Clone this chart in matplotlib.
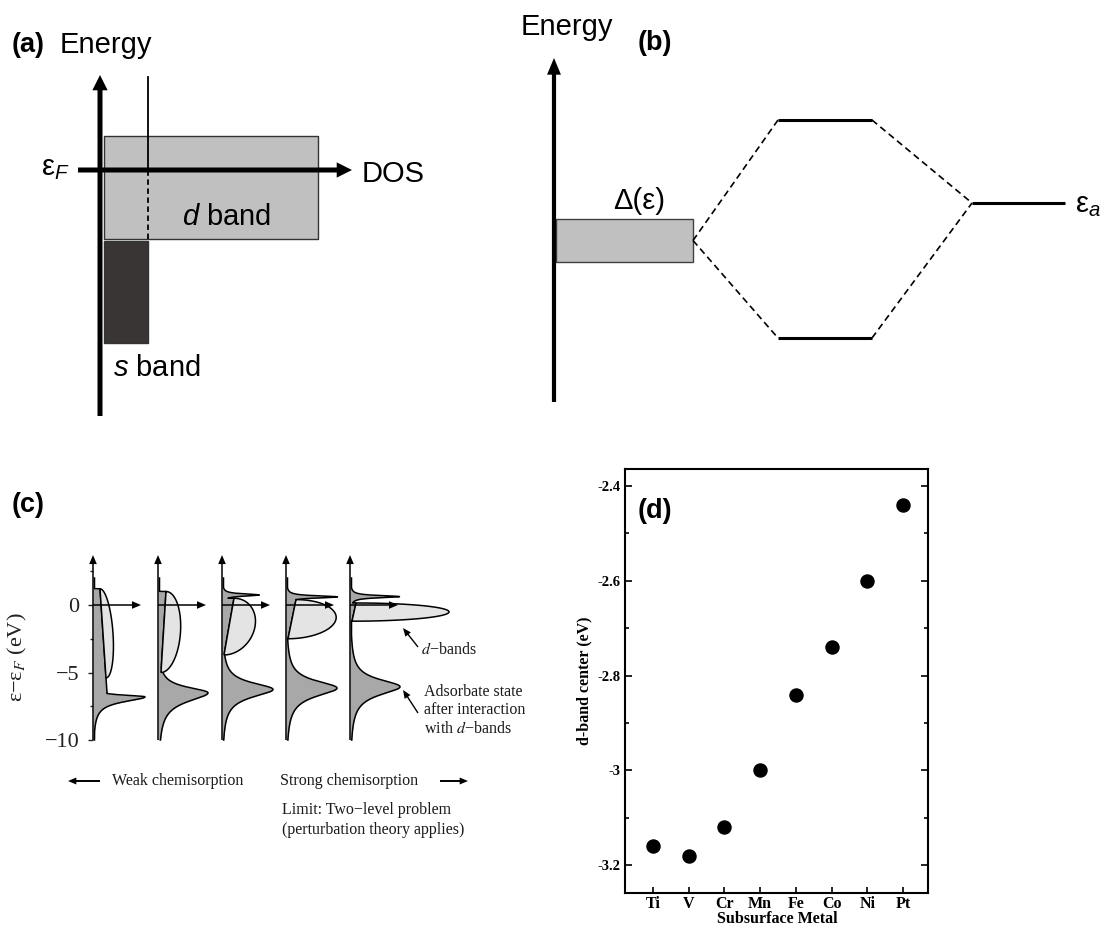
"""
Figura compuesta: modelo de banda d (a-c) y centro de banda d (d)
"""
import numpy as np
import matplotlib
matplotlib.use('Agg')
import matplotlib.pyplot as plt
from matplotlib.patches import Rectangle
from matplotlib.ticker import FixedLocator, MultipleLocator

plt.rcParams['font.family'] = ['Liberation Sans', 'DejaVu Sans']
plt.rcParams['mathtext.fontset'] = 'custom'
plt.rcParams['mathtext.rm'] = 'Liberation Sans'
plt.rcParams['mathtext.it'] = 'Liberation Sans:italic'

FIG_W, FIG_H = 1100, 926
SERIF = 'Liberation Serif'

# (a) bandas del metal (unidades del esquema, nivel de Fermi = 0)
band_labels = ['$d$ band', '$s$ band']
band_dos = [214, 44]
band_top = [34, -71]
band_bottom = [-69, -173]

# (b) niveles del esquema de hibridacion
metal_band = [-22, 21]        # Delta(e)
adsorbate_level = 37          # e_a
hybrid_levels = [120, -98]    # antienlazante / enlazante

# (c) DOS proyectada, de quimisorcion debil a fuerte (energias en eV, alturas en px)
bond_energy = [-6.8, -6.5, -6.25, -6.15, -6.05]
bond_height = [52, 50, 51, 51, 50]
bond_gamma_up = [0.15, 0.5, 0.6, 0.65, 0.65]
bond_gamma_dn = [0.45, 0.8, 0.7, 0.75, 0.75]
anti_energy = [0.0, 0.0, 0.74, 0.6, 0.62]
anti_height = [0, 0, 37, 51, 49]
anti_gamma = 0.1
dband_top = [1.2, 1.0, 0.5, 0.4, 0.15]
dband_bottom = [-5.4, -5.0, -3.7, -2.5, -1.2]
dband_left_top = [7, 8, 12, 10, 6]
dband_left_bottom = [13, 3, 2, 2, 2]
dband_bulge = [10, 17, 26, 44, 95]
shelf_bottom = [-6.55, -5.0, -3.7, -2.5, -1.2]
energy_ticks = [-10, -5, 0]

# (d) centro de banda d por metal subsuperficial
metals = ['Ti', 'V', 'Cr', 'Mn', 'Fe', 'Co', 'Ni', 'Pt']
d_center = [-3.16, -3.18, -3.12, -3.00, -2.84, -2.74, -2.60, -2.44]
d_ticks = [-3.2, -3.0, -2.8, -2.6, -2.4]
d_tick_labels = ['-3.2', '-3', '-2.8', '-2.6', '-2.4']

fig = plt.figure(figsize=(FIG_W / 100, FIG_H / 100), dpi=100)
fig.patch.set_facecolor('white')


def px_axes(x0, y0, x1, y1):
    return fig.add_axes([x0 / FIG_W, 1 - y1 / FIG_H, (x1 - x0) / FIG_W, (y1 - y0) / FIG_H])


def arrow(ax, start, end, width, head_len, head_w, z=6):
    style = f'simple,head_length={head_len},head_width={head_w},tail_width={width}'
    ax.annotate('', xy=end, xytext=start, zorder=z,
                arrowprops=dict(arrowstyle=style, mutation_scale=1, fc='k', ec='none',
                                lw=0, shrinkA=0, shrinkB=0))


# ---------------- (a) ----------------
ax_a = px_axes(0, 0, 450, 430)
ax_a.set_xlim(-100, 350)
ax_a.set_ylim(-260, 170)
ax_a.axis('off')

band_x0 = 4
band_colors = ['#c0c0c0', '#3a3535']
for i in range(2):
    ax_a.add_patch(Rectangle((band_x0, band_bottom[i]), band_dos[i], band_top[i] - band_bottom[i],
                             fc=band_colors[i], ec='#333333', lw=1.0, zorder=1))
x_s = band_x0 + band_dos[1]
ax_a.plot([x_s, x_s], [0, 93], color='k', lw=1.3, zorder=2)
ax_a.plot([x_s, x_s], [band_bottom[0], 0], color='k', lw=1.3, ls=(0, (3, 2)), zorder=2)
arrow(ax_a, (0, -246), (0, 95), 3.6, 11, 11)
arrow(ax_a, (-22, 0), (252, 0), 3.6, 11, 11)

ax_a.text(-88, 118, '(a)', fontsize=19.5, fontweight='bold', va='baseline')
ax_a.text(-40, 117, 'Energy', fontsize=21, va='baseline')
ax_a.text(-30, -5, 'ε$_{F}$', fontsize=21, ha='right', va='baseline')
ax_a.text(262, -12, 'DOS', fontsize=21, va='baseline')
ax_a.text(82, -55, band_labels[0], fontsize=21, va='baseline')
ax_a.text(13, -206, band_labels[1], fontsize=21, va='baseline')

# ---------------- (b) ----------------
ax_b = px_axes(450, 0, 1100, 430)
ax_b.set_xlim(-104, 546)
ax_b.set_ylim(-190, 240)
ax_b.axis('off')

rect_right = 139
ax_b.add_patch(Rectangle((2, metal_band[0]), rect_right - 2, metal_band[1] - metal_band[0],
                         fc='#c0c0c0', ec='#404040', lw=1.0, zorder=1))
arrow(ax_b, (0, -162), (0, 182), 3.0, 12, 10)
band_mid = sum(metal_band) / 2
lvl_x = [224, 318]
ea_x = [418, 511]
for lvl in hybrid_levels:
    ax_b.plot(lvl_x, [lvl, lvl], color='k', lw=2.2, solid_capstyle='butt')
    ax_b.plot([rect_right, lvl_x[0]], [band_mid, lvl], color='k', lw=1.2, ls=(0, (4, 2.5)))
    ax_b.plot([lvl_x[1], ea_x[0]], [lvl, adsorbate_level], color='k', lw=1.2, ls=(0, (4, 2.5)))
ax_b.plot(ea_x, [adsorbate_level] * 2, color='k', lw=2.2, solid_capstyle='butt')

ax_b.text(85, 31, 'Δ(ε)', fontsize=21, ha='center', va='baseline')
ax_b.text(521, 28, 'ε$_{a}$', fontsize=21, va='baseline')
ax_b.text(-33, 205, 'Energy', fontsize=21, va='baseline')
ax_b.text(84, 190, '(b)', fontsize=19.5, fontweight='bold', va='baseline')

# ---------------- (c) ----------------
ax_c = px_axes(0, 480, 560, 850)


def e_px(py):
    return (605 - py) / 13.5


panel_x = [93, 158, 222, 286, 350]
ax_c.set_xlim(0, 560)
ax_c.set_ylim(e_px(850), e_px(480))
for sp in ax_c.spines.values():
    sp.set_visible(False)
ax_c.spines['left'].set_position(('data', panel_x[0]))
ax_c.set_xticks([])
ax_c.set_yticks(energy_ticks)
ax_c.yaxis.set_minor_locator(FixedLocator([-7.5, -2.5, 2.5]))
ax_c.tick_params(axis='y', which='major', direction='out', length=3.6, width=1.0, pad=6,
                 labelsize=16, labelfontfamily=SERIF, colors='#222222')
ax_c.tick_params(axis='y', which='minor', direction='out', length=2.2, width=1.0, colors='#222222')

dark, light = '#a8a8a8', '#e4e4e4'
E = np.linspace(-10, 2.0, 3000)
for i, x0 in enumerate(panel_x):
    g = np.where(E > bond_energy[i], bond_gamma_up[i], bond_gamma_dn[i])
    bond = bond_height[i] / (1 + ((E - bond_energy[i]) / g) ** 2)
    anti = anti_height[i] / (1 + ((E - anti_energy[i]) / anti_gamma) ** 2)
    slope = (dband_left_top[i] - dband_left_bottom[i]) / (dband_top[i] - dband_bottom[i])
    left_line = dband_left_bottom[i] + slope * (E - dband_bottom[i])
    shelf = np.where((E <= dband_top[i]) & (E >= shelf_bottom[i]), left_line, 0)
    xd = np.maximum.reduce([np.full_like(E, 1.5), bond + anti, shelf])
    ax_c.fill_betweenx(E, x0, x0 + xd, color=dark, lw=0, zorder=2)
    ax_c.plot(x0 + xd, E, color='k', lw=1.1, zorder=3)

    El = np.linspace(dband_bottom[i], dband_top[i], 400)
    mid = (dband_top[i] + dband_bottom[i]) / 2
    half = (dband_top[i] - dband_bottom[i]) / 2
    left = dband_left_bottom[i] + slope * (El - dband_bottom[i])
    right = left + dband_bulge[i] * np.sqrt(np.clip(1 - ((El - mid) / half) ** 2, 0, None))
    ax_c.fill(x0 + np.concatenate([left, right[::-1]]), np.concatenate([El, El[::-1]]),
              fc=light, ec='k', lw=1.1, zorder=4)

    arrow(ax_c, (x0, -10), (x0, 3.7), 1.1, 6.5, 5.5)
    arrow(ax_c, (x0, 0), (x0 + 48, 0), 1.1, 6.5, 5.5)

txt = dict(fontsize=11.5, family=SERIF, math_fontfamily='stix', color='#1a1a1a', va='center')
arrow(ax_c, (418, e_px(647)), (403, e_px(628)), 1.0, 6, 5)
ax_c.text(421, e_px(650), '$d$−bands', **txt)
arrow(ax_c, (418, e_px(713)), (403, e_px(690)), 1.0, 6, 5)
for k, line in enumerate(['Adsorbate state', 'after interaction', 'with $d$−bands']):
    ax_c.text(424, e_px(692 + 18.5 * k), line, **txt)

ax_c.text(112, e_px(781), 'Weak chemisorption', **txt)
arrow(ax_c, (100, e_px(781)), (68, e_px(781)), 1.4, 6, 5)
ax_c.text(280, e_px(781), 'Strong chemisorption', **txt)
arrow(ax_c, (440, e_px(781)), (468, e_px(781)), 1.4, 6, 5)
ax_c.text(282, e_px(810), 'Limit: Two−level problem', **txt)
ax_c.text(282, e_px(830), '(perturbation theory applies)', **txt)

ax_c.text(17, e_px(657), 'ε−ε$_F$ (eV)', rotation=90, ha='center', va='center', fontsize=16,
          family=SERIF, math_fontfamily='stix', color='#222222')
ax_c.text(12, e_px(505), '(c)', fontsize=19.5, fontweight='bold', va='center')

# ---------------- (d) ----------------
ax_d = px_axes(625, 469, 928, 893)
xpos = np.arange(len(metals))
ax_d.plot(xpos, d_center, 'o', color='k', ms=9.4, ls='none')
ax_d.set_xlim(-0.78, 7.7)
ax_d.set_ylim(-3.259, -2.364)
ax_d.set_xticks(xpos, labels=metals, fontfamily=SERIF, fontweight='bold', fontsize=11.5)
ax_d.yaxis.set_major_locator(FixedLocator(d_ticks))
ax_d.set_yticklabels(d_tick_labels, fontfamily=SERIF, fontweight='bold', fontsize=10.5)
ax_d.yaxis.set_minor_locator(MultipleLocator(0.1))
ax_d.tick_params(axis='y', which='both', direction='in', left=True, right=True, width=1.2)
ax_d.tick_params(axis='y', which='major', length=5, pad=3.5)
ax_d.tick_params(axis='y', which='minor', length=3)
ax_d.tick_params(axis='x', direction='in', length=4, width=1.2, pad=2.5)
for sp in ax_d.spines.values():
    sp.set_linewidth(1.5)
ax_d.set_ylabel('d-band center (eV)', fontfamily=SERIF, fontweight='bold', fontsize=11.5)
ax_d.yaxis.set_label_coords(-0.108, 0.5)
ax_d.set_xlabel('Subsurface Metal', fontfamily=SERIF, fontweight='bold', fontsize=11.5)
ax_d.xaxis.set_label_coords(0.502, -0.042)
ax_d.text(0.043, 0.901, '(d)', transform=ax_d.transAxes, fontsize=19.5, fontweight='bold',
          va='center')

fig.savefig('out.png', dpi=100, facecolor='white')
plt.close(fig)
